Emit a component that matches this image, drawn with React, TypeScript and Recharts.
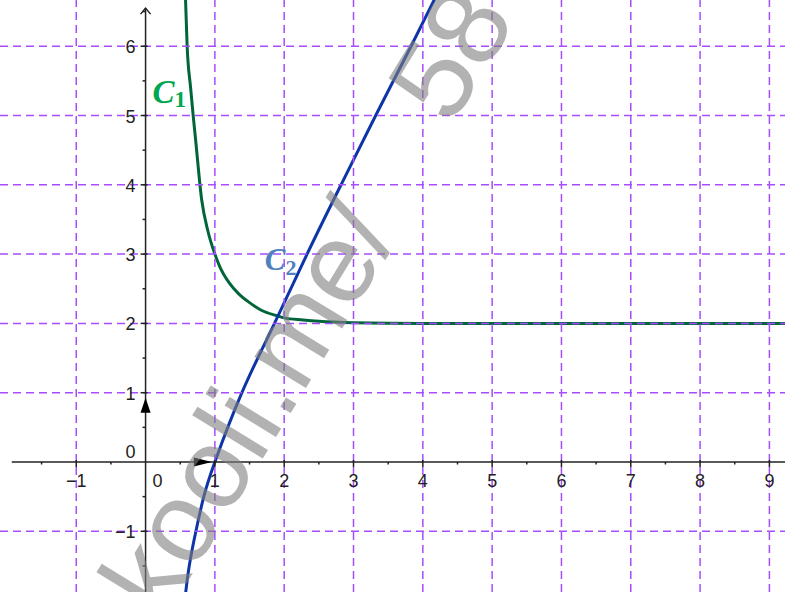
import React from "react";
import { LineChart, Line, XAxis, YAxis, ReferenceLine, ReferenceDot } from "recharts";

// C1 (x, y)
const c1X = [0.566, 0.577, 0.6, 0.65, 0.687, 0.722, 0.81, 0.9, 1.0, 1.07, 1.21, 1.34, 1.5, 1.67, 1.9, 2.0, 2.27, 2.5, 3.0, 4.0, 6.0, 9.3];
const c1Y = [7.0, 6.667, 6.0, 5.4, 5.0, 4.65, 3.78, 3.33, 3.0, 2.82, 2.58, 2.43, 2.3, 2.19, 2.11, 2.08, 2.05, 2.03, 2.01, 2.0, 2.0, 2.0];

// C2
const c2X = [0.565, 0.58, 0.63, 0.726, 0.84, 1.0, 1.39, 1.86, 2.33, 2.82, 3.32, 3.83, 4.18];
const c2Y = [-2.0, -1.876, -1.5, -1.0, -0.5, 0, 1.0, 2.0, 3.0, 4.0, 5.0, 6.0, 6.7];

const xGrid = [-1, 1, 2, 3, 4, 5, 6, 7, 8, 9];
const yGrid = [-1, 1, 2, 3, 4, 5, 6];
const xTickLabels = ["−1", "1", "2", "3", "4", "5", "6", "7", "8", "9"];
const yTickLabels = ["−1", "1", "2", "3", "4", "5", "6"];
const xMinor = [-1.5, -0.5, 0.5, 1.5, 2.5, 3.5, 4.5, 5.5, 6.5, 7.5, 8.5];
const yMinor = [-1.5, -0.5, 0.5, 1.5, 2.5, 3.5, 4.5, 5.5, 6.5];

const c1 = c1X.map((x, i) => ({ x, y: c1Y[i] }));
const c2 = c2X.map((x, i) => ({ x, y: c2Y[i] }));

const GRID = "#a64dff";
const AXIS = "#222";
const FONT = "'Liberation Sans', Arial, sans-serif";

export default function App() {
  return (
    <div style={{ position: "absolute", left: 0, top: 0, width: 785, height: 592, background: "#fff" }}>
      <LineChart width={785} height={592} margin={{ top: 0, right: 0, bottom: 0, left: 0 }}>
        <XAxis type="number" dataKey="x" domain={[-2.1, 9.225]} allowDataOverflow hide />
        <YAxis type="number" dataKey="y" domain={[-1.876, 6.667]} allowDataOverflow hide />

        <Line data={c1} dataKey="y" type="monotone" stroke="#00663a" strokeWidth={3} dot={false} isAnimationActive={false} />
        <Line data={c2} dataKey="y" type="natural" stroke="#0d35a8" strokeWidth={3} dot={false} isAnimationActive={false} />

        {xGrid.map((v) => (
          <ReferenceLine key={"gx" + v} x={v} stroke={GRID} strokeWidth={1.5} strokeDasharray="8 5" />
        ))}
        {yGrid.map((v) => (
          <ReferenceLine key={"gy" + v} y={v} stroke={GRID} strokeWidth={1.5} strokeDasharray="8 5" />
        ))}

        {/* axes */}
        <ReferenceLine segment={[{ x: -1.93, y: 0 }, { x: 9.225, y: 0 }]} stroke={AXIS} strokeWidth={1.5} />
        <ReferenceLine segment={[{ x: 0, y: -1.876 }, { x: 0, y: 6.55 }]} stroke={AXIS} strokeWidth={1.5} />
        <ReferenceDot
          x={0}
          y={6.55}
          r={0}
          shape={(p: any) => (
            <polyline points={`${p.cx - 5},${p.cy + 6} ${p.cx},${p.cy} ${p.cx + 5},${p.cy + 6}`} fill="none" stroke={AXIS} strokeWidth={1.5} />
          )}
        />

        {/* unit vectors */}
        <ReferenceDot
          x={1}
          y={0}
          r={0}
          shape={(p: any) => (
            <polygon points={`${p.cx - 3},${p.cy} ${p.cx - 21},${p.cy - 4.5} ${p.cx - 21},${p.cy + 4.5}`} fill="#000" />
          )}
        />
        <ReferenceDot
          x={0}
          y={1}
          r={0}
          shape={(p: any) => (
            <polygon points={`${p.cx},${p.cy + 5} ${p.cx - 5},${p.cy + 20} ${p.cx + 5},${p.cy + 20}`} fill="#000" />
          )}
        />

        {/* x ticks and labels */}
        {xGrid.map((v, i) => (
          <ReferenceDot
            key={"xt" + v}
            x={v}
            y={0}
            r={0}
            shape={(p: any) => (
              <g>
                <line x1={p.cx} y1={p.cy - 2} x2={p.cx} y2={p.cy + 5} stroke={AXIS} strokeWidth={1.5} />
                <text x={p.cx} y={p.cy + 25} textAnchor="middle" fontFamily={FONT} fontSize={18} fill="#222">
                  {xTickLabels[i]}
                </text>
              </g>
            )}
          />
        ))}
        {xMinor.map((v) => (
          <ReferenceDot
            key={"xm" + v}
            x={v}
            y={0}
            r={0}
            shape={(p: any) => <line x1={p.cx} y1={p.cy} x2={p.cx} y2={p.cy + 2.5} stroke={AXIS} strokeWidth={1.5} />}
          />
        ))}

        {/* y ticks and labels */}
        {yGrid.map((v, i) => (
          <ReferenceDot
            key={"yt" + v}
            x={0}
            y={v}
            r={0}
            shape={(p: any) => (
              <g>
                <line x1={p.cx - 5} y1={p.cy} x2={p.cx + 2} y2={p.cy} stroke={AXIS} strokeWidth={1.5} />
                <text x={p.cx - 10} y={p.cy + 7} textAnchor="end" fontFamily={FONT} fontSize={18} fill="#222">
                  {yTickLabels[i]}
                </text>
              </g>
            )}
          />
        ))}
        {yMinor.map((v) => (
          <ReferenceDot
            key={"ym" + v}
            x={0}
            y={v}
            r={0}
            shape={(p: any) => <line x1={p.cx - 3} y1={p.cy} x2={p.cx} y2={p.cy} stroke={AXIS} strokeWidth={1.5} />}
          />
        ))}

        {/* origin labels */}
        <ReferenceDot
          x={0}
          y={0}
          r={0}
          shape={(p: any) => (
            <g fontFamily={FONT} fontSize={18} fill="#222">
              <text x={p.cx + 12} y={p.cy + 25} textAnchor="middle">0</text>
              <text x={p.cx - 10} y={p.cy - 4} textAnchor="end">0</text>
            </g>
          )}
        />

        {/* curve names */}
        <ReferenceDot
          x={0.1}
          y={5.18}
          r={0}
          shape={(p: any) => (
            <text x={p.cx} y={p.cy} fontFamily="'Liberation Serif', serif" fontWeight="bold" fontStyle="italic" fontSize={33} fill="#00a650">
              C<tspan fontStyle="normal" fontSize={23} dy={4}>1</tspan>
            </text>
          )}
        />
        <ReferenceDot
          x={1.72}
          y={2.77}
          r={0}
          shape={(p: any) => (
            <text x={p.cx} y={p.cy} fontFamily="'Liberation Serif', serif" fontWeight="bold" fontStyle="italic" fontSize={31} fill="#4f81bd">
              C<tspan fontStyle="normal" fontSize={22} dy={5}>2</tspan>
            </text>
          )}
        />
      </LineChart>

      {/* watermark */}
      <svg width={785} height={592} style={{ position: "absolute", left: 0, top: 0, pointerEvents: "none" }}>
        <text
          transform="translate(163,622) rotate(-58.6)"
          fontFamily={FONT}
          fontSize={114}
          fill="#7f7f7f"
          fillOpacity={0.6}
        >
          kooli.me/<tspan dx={116} dy={-12}>58</tspan>
        </text>
      </svg>
    </div>
  );
}
